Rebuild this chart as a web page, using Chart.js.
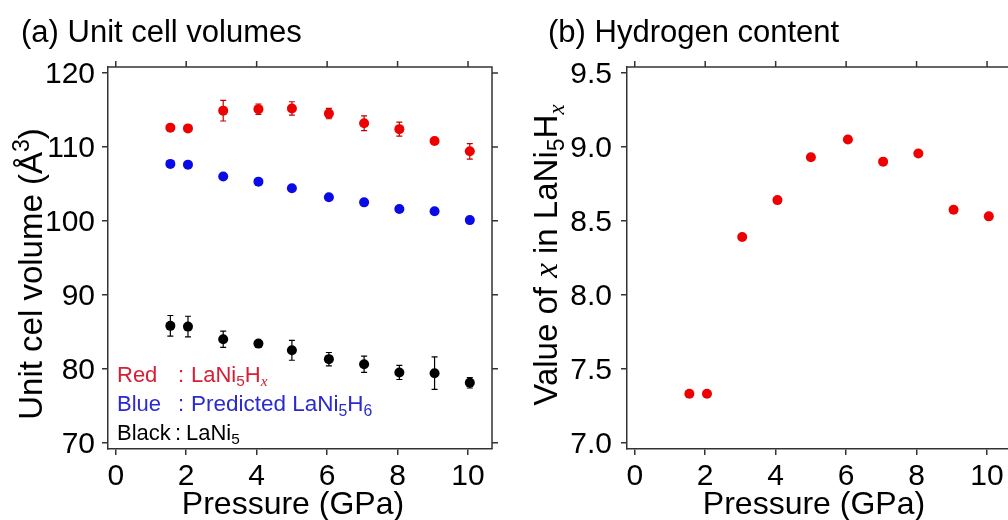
<!DOCTYPE html>
<html>
<head>
<meta charset="utf-8">
<script src="https://cdn.jsdelivr.net/npm/chart.js@4.4.1/dist/chart.umd.min.js"></script>
<style>
  html, body { margin: 0; padding: 0; background: #fff; }
  body { width: 1008px; height: 520px; overflow: hidden; position: relative; }
  .panel { position: absolute; top: 0; height: 520px; }
  #panelA { left: 0; width: 504px; }
  #panelB { left: 504px; width: 520px; }
</style>
</head>
<body>
<div class="panel" id="panelA"><canvas id="chartA"></canvas></div>
<div class="panel" id="panelB"><canvas id="chartB"></canvas></div>
<script>
// Pressure points (GPa), shared by both panels
const pressure = [1.55, 2.05, 3.05, 4.05, 5.0, 6.05, 7.05, 8.05, 9.05, 10.05];

// (a) unit cell volumes (Å^3)
const volHydride = [112.6, 112.5, 114.9, 115.1, 115.2, 114.5, 113.2, 112.4, 110.8, 109.4];
const volHydrideErr = [0.3, 0.3, 1.4, 0.7, 0.9, 0.7, 1.0, 0.95, 0.3, 1.05];
const volPredicted = [107.7, 107.6, 106.0, 105.3, 104.4, 103.2, 102.5, 101.6, 101.3, 100.1];
const volLaNi5 = [85.8, 85.7, 84.0, 83.4, 82.5, 81.3, 80.6, 79.5, 79.4, 78.1];
const volLaNi5Err = [1.4, 1.4, 1.1, 0.3, 1.35, 0.9, 1.1, 0.95, 2.2, 0.7];

// (b) hydrogen content x in LaNi5Hx
const hydrogenX = [7.33, 7.33, 8.39, 8.64, 8.93, 9.05, 8.90, 8.955, 8.575, 8.53];

// tick values
const pressureTicks = [0, 2, 4, 6, 8, 10];
const volumeTicks = [70, 80, 90, 100, 110, 120];
const hydrogenTicks = [7.0, 7.5, 8.0, 8.5, 9.0, 9.5];

const SANS = '"Liberation Sans", Arial, sans-serif';
const SERIF = '"Liberation Serif", "Times New Roman", serif';
const AXIS = '#333';
const RED = '#ee0000';
const BLUE = '#0a0ae6';
const BLACK = '#000000';

const toPoints = ys => ys.map((v, i) => ({ x: pressure[i], y: v }));

// draw text made of segments: [text, style] where style may hold 'sub', 'sup', 'it'
function richText(ctx, segs, x, y, size, { color = '#000', align = 'left', rotate = 0 } = {}) {
  const parts = segs.map(([t, style = '']) => {
    const small = style.includes('sub') || style.includes('sup');
    const s = small ? size * 0.7 : size;
    const font = style.includes('it') ? `italic ${s}px ${SERIF}` : `${s}px ${SANS}`;
    ctx.font = font;
    const dy = style.includes('sub') ? size * 0.2 : style.includes('sup') ? -size * 0.4 : 0;
    return { t, font, w: ctx.measureText(t).width, dy };
  });
  const total = parts.reduce((a, p) => a + p.w, 0);
  ctx.save();
  ctx.translate(x, y);
  if (rotate) ctx.rotate(rotate);
  ctx.fillStyle = color;
  ctx.textBaseline = 'alphabetic';
  ctx.textAlign = 'left';
  let cx = align === 'center' ? -total / 2 : align === 'right' ? -total : 0;
  parts.forEach(p => {
    ctx.font = p.font;
    ctx.fillText(p.t, cx, p.dy);
    cx += p.w;
  });
  ctx.restore();
}

// error bars drawn under the markers
const errorBars = {
  id: 'errorBars',
  beforeDatasetsDraw(chart) {
    const { ctx, scales: { x, y } } = chart;
    chart.data.datasets.forEach(ds => {
      if (!ds.errors) return;
      ctx.save();
      ctx.strokeStyle = ds.errorColor;
      ctx.lineWidth = 1.2;
      ds.data.forEach((p, i) => {
        const e = ds.errors[i];
        if (!e) return;
        const px = x.getPixelForValue(p.x);
        const top = y.getPixelForValue(p.y + e);
        const bot = y.getPixelForValue(p.y - e);
        ctx.beginPath();
        ctx.moveTo(px, top); ctx.lineTo(px, bot);
        ctx.moveTo(px - 3, top); ctx.lineTo(px + 3, top);
        ctx.moveTo(px - 3, bot); ctx.lineTo(px + 3, bot);
        ctx.stroke();
      });
      ctx.restore();
    });
  }
};

// top/right frame, mirrored ticks, tick labels and all panel text
function makeFrame(yFormat, labelGap, drawTexts) {
  return {
    id: 'frame',
    afterDraw(chart) {
      const { ctx, chartArea: a, scales: { x, y } } = chart;
      ctx.save();
      ctx.strokeStyle = AXIS;
      ctx.lineWidth = 1.5;
      ctx.beginPath();
      ctx.moveTo(a.left, a.top);
      ctx.lineTo(a.right, a.top);
      ctx.lineTo(a.right, a.bottom);
      x.ticks.forEach(t => {
        const px = x.getPixelForValue(t.value);
        ctx.moveTo(px, a.top);
        ctx.lineTo(px, a.top - 6);
      });
      y.ticks.forEach(t => {
        const py = y.getPixelForValue(t.value);
        ctx.moveTo(a.right, py);
        ctx.lineTo(a.right + 6, py);
      });
      ctx.stroke();

      ctx.fillStyle = '#000';
      ctx.font = `30px ${SANS}`;
      ctx.textBaseline = 'alphabetic';
      ctx.textAlign = 'center';
      x.ticks.forEach(t => ctx.fillText(String(t.value), x.getPixelForValue(t.value), a.bottom + 36));
      ctx.textAlign = 'right';
      y.ticks.forEach(t => ctx.fillText(yFormat(t.value), a.left - labelGap, y.getPixelForValue(t.value) + 10));
      ctx.restore();

      drawTexts(ctx, a);
    }
  };
}

function makeChart(canvasId, { datasets, yMin, yMax, yTicks, yAxisWidth, padRight, yFormat, labelGap, drawTexts }) {
  return new Chart(document.getElementById(canvasId), {
    type: 'scatter',
    data: { datasets },
    options: {
      responsive: true,
      maintainAspectRatio: false,
      animation: false,
      events: [],
      layout: { padding: { top: 67, right: padRight, left: 0, bottom: 0 } },
      scales: {
        x: {
          type: 'linear',
          min: -0.22,
          max: 10.68,
          afterBuildTicks: s => { s.ticks = pressureTicks.map(v => ({ value: v })); },
          afterFit: s => { s.height = 71; },
          ticks: { display: false },
          grid: { display: true, drawOnChartArea: false, drawTicks: true, tickLength: 6, color: AXIS, lineWidth: 1.5 },
          border: { display: true, color: AXIS, width: 1.5 }
        },
        y: {
          type: 'linear',
          min: yMin,
          max: yMax,
          afterBuildTicks: s => { s.ticks = yTicks.map(v => ({ value: v })); },
          afterFit: s => { s.width = yAxisWidth; },
          ticks: { display: false },
          grid: { display: true, drawOnChartArea: false, drawTicks: true, tickLength: 6, color: AXIS, lineWidth: 1.5 },
          border: { display: true, color: AXIS, width: 1.5 }
        }
      },
      plugins: {
        legend: { display: false },
        tooltip: { enabled: false }
      }
    },
    plugins: [errorBars, makeFrame(yFormat, labelGap, drawTexts)]
  });
}

const dot = color => ({
  pointRadius: 5,
  pointHoverRadius: 5,
  pointBackgroundColor: color,
  pointBorderColor: color,
  pointBorderWidth: 0,
  backgroundColor: color,
  borderColor: color
});

// (a) Unit cell volumes
makeChart('chartA', {
  datasets: [
    { label: 'LaNi5Hx', data: toPoints(volHydride), errors: volHydrideErr, errorColor: '#c00000', ...dot(RED) },
    { label: 'Predicted LaNi5H6', data: toPoints(volPredicted), ...dot(BLUE) },
    { label: 'LaNi5', data: toPoints(volLaNi5), errors: volLaNi5Err, errorColor: '#000', ...dot(BLACK) }
  ],
  yMin: 69.15,
  yMax: 120.8,
  yTicks: volumeTicks,
  yAxisWidth: 108,
  padRight: 12,
  yFormat: v => String(v),
  labelGap: 13,
  drawTexts: (ctx, a) => {
    richText(ctx, [['(a) Unit cell volumes']], 21, 42, 31);
    richText(ctx, [['Unit cel volume (Å'], ['3', 'sup'], [')']], 42, 274, 33, { align: 'center', rotate: -Math.PI / 2 });
    richText(ctx, [['Pressure (GPa)']], a.left + 185, 514, 32, { align: 'center' });

    const red = '#d42035', blue = '#2a2ad0';
    richText(ctx, [['Red']], 117, 382, 22, { color: red });
    richText(ctx, [[':']], 178, 382, 22, { color: red });
    richText(ctx, [['LaNi'], ['5', 'sub'], ['H'], ['x', 'sub it']], 191, 382, 22, { color: red });
    richText(ctx, [['Blue']], 117, 411, 22, { color: blue });
    richText(ctx, [[':']], 178, 411, 22, { color: blue });
    richText(ctx, [['Predicted LaNi'], ['5', 'sub'], ['H'], ['6', 'sub']], 191, 411, 22.5, { color: blue });
    richText(ctx, [['Black']], 117, 440, 22);
    richText(ctx, [[':']], 175, 440, 22);
    richText(ctx, [['LaNi'], ['5', 'sub']], 186, 440, 22);
  }
});

// (b) Hydrogen content
makeChart('chartB', {
  datasets: [
    { label: 'x in LaNi5Hx', data: toPoints(hydrogenX), ...dot(RED) }
  ],
  yMin: 6.957,
  yMax: 9.54,
  yTicks: hydrogenTicks,
  yAxisWidth: 123,
  padRight: 13,
  yFormat: v => v.toFixed(1),
  labelGap: 15,
  drawTexts: (ctx, a) => {
    richText(ctx, [['(b) Hydrogen content']], 44, 42, 31);
    richText(ctx, [['Value of '], ['x', 'it'], [' in LaNi'], ['5', 'sub'], ['H'], ['x', 'sub it']], 53, 255, 33, { align: 'center', rotate: -Math.PI / 2 });
    richText(ctx, [['Pressure (GPa)']], a.left + 187, 514, 32, { align: 'center' });
  }
});
</script>
</body>
</html>
